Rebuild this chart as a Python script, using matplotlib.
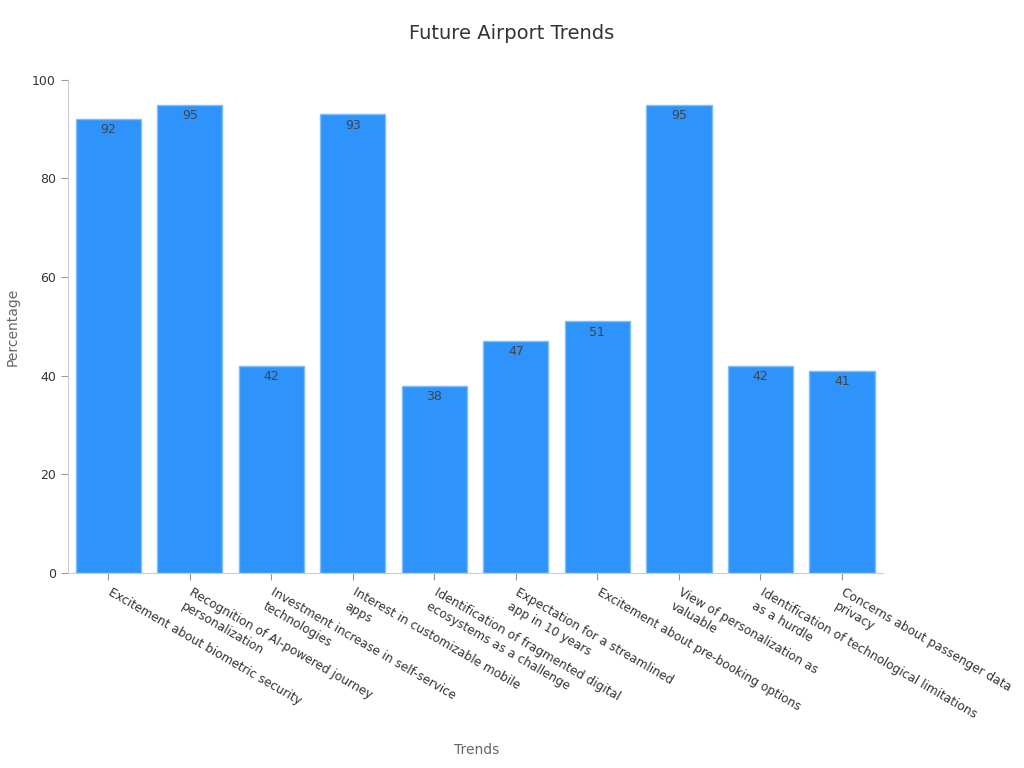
import matplotlib
matplotlib.use("Agg")
import matplotlib.pyplot as plt
import matplotlib.transforms as mtransforms

# Daten aus dem Diagramm
trends = [
    "Excitement about biometric security",
    "Recognition of AI-powered journey\npersonalization",
    "Investment increase in self-service\ntechnologies",
    "Interest in customizable mobile\napps",
    "Identification of fragmented digital\necosystems as a challenge",
    "Expectation for a streamlined\napp in 10 years",
    "Excitement about pre-booking options",
    "View of personalization as\nvaluable",
    "Identification of technological limitations\nas a hurdle",
    "Concerns about passenger data\nprivacy",
]
percentages = [92, 95, 42, 93, 38, 47, 51, 95, 42, 41]

bar_color = "#2E93FA"
edge_color = "#7FBDF7"
spine_color = "#CCCCCC"
text_color = "#333333"
label_color = "#666666"

fig = plt.figure(figsize=(10.24, 7.68), dpi=100)
ax = fig.add_axes([0.066, 0.254, 0.796, 0.642])

x = list(range(len(trends)))
bars = ax.bar(x, percentages, width=0.8, color=bar_color,
              edgecolor=edge_color, linewidth=1)

for rect, val in zip(bars, percentages):
    ax.annotate(str(val), (rect.get_x() + rect.get_width() / 2, val),
                xytext=(0, -3), textcoords="offset points",
                ha="center", va="top", fontsize=9, color="#444444")

ax.set_xlim(-0.5, len(trends) - 0.5)
ax.set_ylim(0, 100)
ax.set_yticks([0, 20, 40, 60, 80, 100])
ax.set_xticks(x)
ax.set_xticklabels(trends, rotation=-30, ha="left", va="top",
                   rotation_mode="anchor", fontsize=8.7, color=text_color,
                   linespacing=1.3)
ax.tick_params(axis="y", labelsize=9, colors=text_color, color="#999999", length=5)
ax.tick_params(axis="x", color="#999999", length=5, pad=4)

# Beschriftungen etwas nach rechts schieben
shift = mtransforms.ScaledTranslation(4 / 100, 0, fig.dpi_scale_trans)
for lbl in ax.get_xticklabels():
    lbl.set_transform(lbl.get_transform() + shift)

for side in ["top", "right"]:
    ax.spines[side].set_visible(False)
for side in ["left", "bottom"]:
    ax.spines[side].set_color(spine_color)

fig.text(0.5, 0.957, "Future Airport Trends", fontsize=14, color=text_color,
         ha="center", va="center")
ax.set_ylabel("Percentage", fontsize=10, color=label_color, labelpad=9)
fig.text(0.465, 0.023, "Trends", fontsize=10, color=label_color,
         ha="center", va="center")

fig.savefig("out.png", dpi=100)
